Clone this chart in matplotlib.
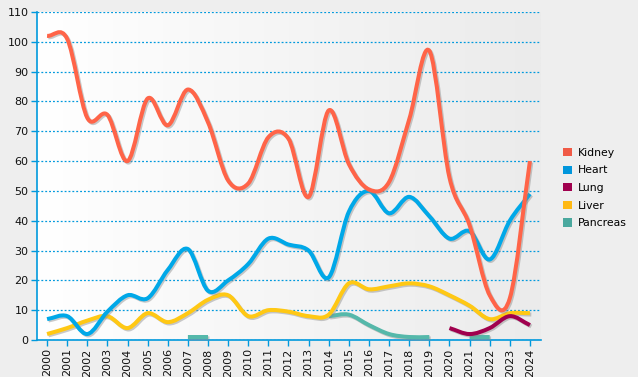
import matplotlib

matplotlib.use("Agg")
import matplotlib.pyplot as plt
import matplotlib.patheffects as pe
from matplotlib.colors import to_rgb
from matplotlib.patches import Patch, PathPatch
from matplotlib.path import Path
import numpy as np

years = list(range(2000, 2025))
kidney = [102, 101, 74.5, 75.5, 60, 81, 72, 84, 73, 53.5, 52.5, 68, 67.5, 48, 77,
          59, 50.5, 53, 74, 97, 54.5, 38.5, 15, 14, 60]
heart = [7, 8, 2, 9.5, 15, 14, 23.5, 30.5, 16.5, 20, 25.5, 34, 32, 30, 21,
         43, 50, 42.5, 48, 41.5, 34, 36.5, 27, 40, 49]
lung = [None] * 20 + [4, 2, 4, 8, 5]
liver = [2, 4, 6.5, 8, 4, 9, 6, 9, 13.5, 15, 8, 10, 9.5, 8, 8.5,
         19, 17, 18, 19, 18, 15, 11.5, 7, 9, 9]
pancreas = ([None] * 7 + [1, 1] + [None] * 5 + [8, 8.5, 5, 2, 1, 1]
            + [None] + [1, 1] + [None] * 2)

series = ["Kidney", "Heart", "Lung", "Liver", "Pancreas"]
values = [kidney, heart, lung, liver, pancreas]
line_colors = ["#FF6448", "#00A8E8", "#A0004E", "#FFC814", "#55B8AA"]
legend_colors = ["#F05A46", "#0096DC", "#A0004E", "#FFB914", "#4AA89E"]
axis_blue = "#0099DD"


def runs(xs, ys):
    """Split a series into runs of consecutive non-missing points."""
    out, cur = [], []
    for x, y in zip(xs, ys):
        if y is None:
            if cur:
                out.append(cur)
            cur = []
        else:
            cur.append((x, y))
    if cur:
        out.append(cur)
    return out


def spline_path(pts):
    """Catmull-Rom through the points, expressed as cubic Bezier segments."""
    p = np.array(pts, dtype=float)
    n = len(p)
    if n == 1:
        return Path(p)
    m = np.zeros_like(p)
    m[0] = p[1] - p[0]
    m[-1] = p[-1] - p[-2]
    if n > 2:
        m[1:-1] = (p[2:] - p[:-2]) / 2
    verts = [p[0]]
    codes = [Path.MOVETO]
    for i in range(n - 1):
        verts += [p[i] + m[i] / 3, p[i + 1] - m[i + 1] / 3, p[i + 1]]
        codes += [Path.CURVE4] * 3
    return Path(verts, codes)


plt.rcParams["font.family"] = "DejaVu Sans"
fig = plt.figure(figsize=(6.38, 3.77), dpi=100, facecolor="#EEEEEE")
ax = fig.add_axes([37 / 638, 1 - 340 / 377, 504 / 638, 328 / 377])
xlim = (1999.5, 2024.55)
ax.set_xlim(*xlim)
ax.set_ylim(0, 110)

# plot-area gradient, white on the left to light grey on the right
left, right = np.array(to_rgb("#FFFFFF")), np.array(to_rgb("#EBEBEB"))
t = np.linspace(0, 1, 256)[None, :, None]
grad = left * (1 - t) + right * t
ax.imshow(grad, extent=[xlim[0], xlim[1], 0, 110], aspect="auto", zorder=0)
ax.set_facecolor("#FFFFFF")

ax.set_yticks(range(0, 111, 10))
ax.set_xticks(years)
ax.set_xticklabels([str(y) for y in years], rotation=90)
ax.yaxis.grid(True, color=axis_blue, linestyle=(0, (1.5, 1.6)), linewidth=0.9)
ax.set_axisbelow(True)
for s in ["top", "right"]:
    ax.spines[s].set_visible(False)
for s in ["left", "bottom"]:
    ax.spines[s].set_color(axis_blue)
    ax.spines[s].set_linewidth(1.2)
ax.tick_params(axis="both", colors=axis_blue, labelcolor="#111111",
               labelsize=8, length=4, width=1, pad=2)

shadow = [pe.SimpleLineShadow(offset=(1.0, -1.0), shadow_color="#8A8A8A", alpha=0.45),
          pe.Normal()]
for name, ys, col in reversed(list(zip(series, values, line_colors))):
    for run in runs(years, ys):
        patch = PathPatch(spline_path(run), fill=False, edgecolor=col,
                          linewidth=2.9, capstyle="butt", joinstyle="round",
                          zorder=3, clip_on=False)
        patch.set_path_effects(shadow)
        ax.add_patch(patch)

handles = [Patch(facecolor=c, edgecolor="none", label=n)
           for n, c in zip(series, legend_colors)]
fig.legend(handles=handles, loc="center left", bbox_to_anchor=(563 / 638, 1 - 188 / 377),
           frameon=False, fontsize=7.8, handlelength=0.8, handleheight=0.8,
           handletextpad=0.6, labelspacing=0.7, borderpad=0, borderaxespad=0)

fig.savefig("out.png", dpi=100, facecolor=fig.get_facecolor())
